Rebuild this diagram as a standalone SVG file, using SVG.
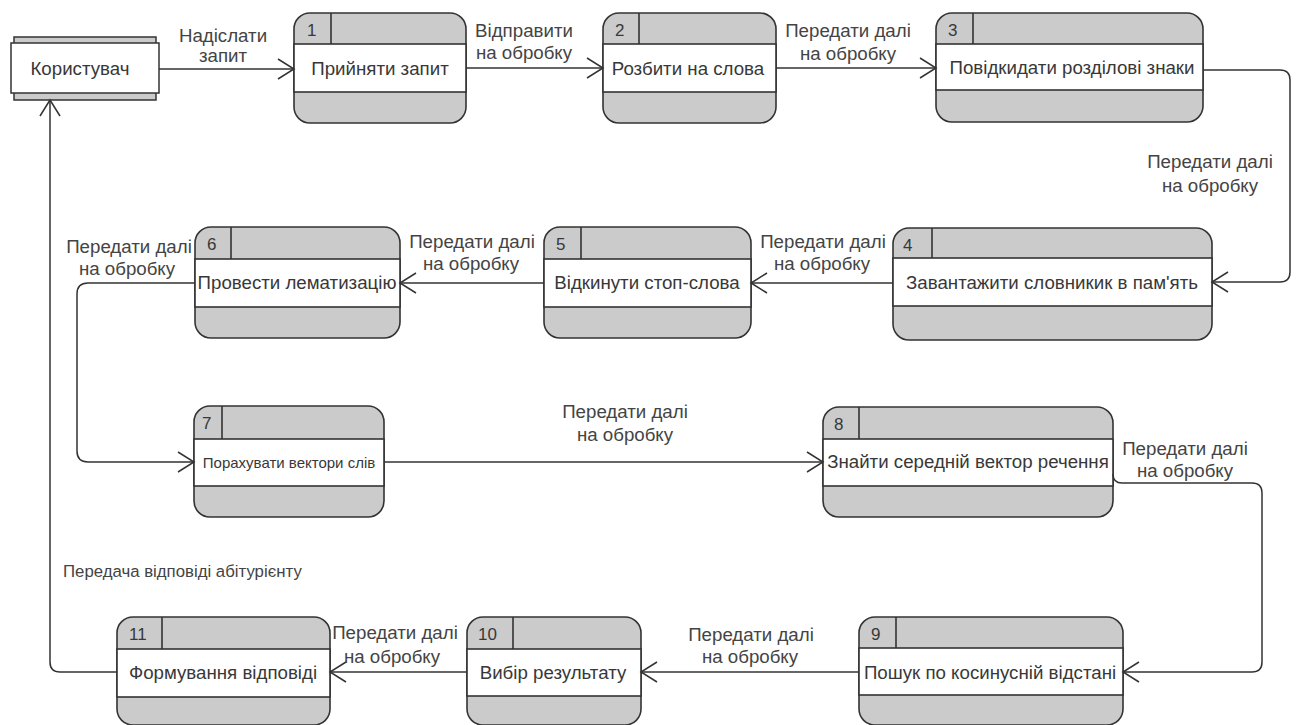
<svg xmlns="http://www.w3.org/2000/svg" width="1296" height="725" viewBox="0 0 1296 725">
<defs>
<marker id="arr" markerUnits="userSpaceOnUse" markerWidth="20" markerHeight="24" viewBox="0 0 20 24" refX="18" refY="12" orient="auto">
<path d="M2,2 L18,12 L2,22" fill="none" stroke="#333" stroke-width="1.5"/>
</marker>
</defs>
<style>
.shell{fill:#cbcbcb;stroke:#333;stroke-width:1.6}
.body{fill:#fff;stroke:#333;stroke-width:1.6}
.ln{stroke:#333;stroke-width:1.6}
.t{font-family:"Liberation Sans",Arial,sans-serif;font-size:18.7px;fill:#383838;text-anchor:middle}
.n{font-family:"Liberation Sans",Arial,sans-serif;font-size:17px;fill:#383838}
.lb{font-family:"Liberation Sans",Arial,sans-serif;font-size:18.7px;fill:#444;text-anchor:middle}
.c{fill:none;stroke:#333;stroke-width:1.5;marker-end:url(#arr)}
</style>
<rect width="1296" height="725" fill="#fff"/>

<g id="user">
<rect x="14" y="37" width="142" height="63" fill="#cbcbcb" stroke="#333" stroke-width="1.5"/>
<rect x="11" y="43" width="148" height="50" fill="#fff" stroke="#333" stroke-width="1.5"/>
<text class="t" x="80" y="75">Користувач</text>
</g>

<g id="n1">
<rect class="shell" x="294" y="13" width="172" height="110" rx="16"/>
<rect class="body" x="294" y="44" width="172" height="48"/>
<line class="ln" x1="331" y1="13" x2="331" y2="44"/>
<text class="n" x="307" y="36">1</text>
<text class="t" x="380" y="75">Прийняти запит</text>
</g>

<g id="n2">
<rect class="shell" x="603" y="13" width="173" height="110" rx="16"/>
<rect class="body" x="603" y="44" width="173" height="48"/>
<line class="ln" x1="639" y1="13" x2="639" y2="44"/>
<text class="n" x="615" y="36">2</text>
<text class="t" x="688" y="75">Розбити на слова</text>
</g>

<g id="n3">
<rect class="shell" x="936" y="13" width="267" height="109" rx="16"/>
<rect class="body" x="936" y="44" width="267" height="46"/>
<line class="ln" x1="973" y1="13" x2="973" y2="44"/>
<text class="n" x="948" y="36">3</text>
<text class="t" x="1072" y="74">Повідкидати розділові знаки</text>
</g>

<g id="n4">
<rect class="shell" x="893" y="228" width="319" height="112" rx="16"/>
<rect class="body" x="893" y="258" width="319" height="48"/>
<line class="ln" x1="932" y1="228" x2="932" y2="258"/>
<text class="n" x="903" y="251">4</text>
<text class="t" x="1052" y="289">Завантажити словникик в пам'ять</text>
</g>

<g id="n5">
<rect class="shell" x="544" y="227" width="207" height="111" rx="16"/>
<rect class="body" x="544" y="259" width="207" height="48"/>
<line class="ln" x1="581" y1="227" x2="581" y2="259"/>
<text class="n" x="556" y="250">5</text>
<text class="t" x="647" y="289">Відкинути стоп-слова</text>
</g>

<g id="n6">
<rect class="shell" x="195" y="227" width="205" height="111" rx="16"/>
<rect class="body" x="195" y="259" width="205" height="48"/>
<line class="ln" x1="231" y1="227" x2="231" y2="259"/>
<text class="n" x="207" y="250">6</text>
<text class="t" x="297" y="289">Провести лематизацію</text>
</g>

<g id="n7">
<rect class="shell" x="194" y="406" width="190" height="111" rx="16"/>
<rect class="body" x="194" y="439" width="190" height="47"/>
<line class="ln" x1="222" y1="406" x2="222" y2="439"/>
<text class="n" x="202" y="429">7</text>
<text class="t" x="289" y="468" style="font-size:15px">Порахувати вектори слів</text>
</g>

<g id="n8">
<rect class="shell" x="823" y="407" width="290" height="110" rx="16"/>
<rect class="body" x="823" y="439" width="290" height="47"/>
<line class="ln" x1="859" y1="407" x2="859" y2="439"/>
<text class="n" x="834" y="430">8</text>
<text class="t" x="968" y="468">Знайти середній вектор речення</text>
</g>

<g id="n9">
<rect class="shell" x="859" y="617" width="264" height="108" rx="16"/>
<rect class="body" x="859" y="648" width="264" height="47"/>
<line class="ln" x1="896" y1="617" x2="896" y2="648"/>
<text class="n" x="871" y="640">9</text>
<text class="t" x="990" y="679">Пошук по косинусній відстані</text>
</g>

<g id="n10">
<rect class="shell" x="467" y="617" width="174" height="108" rx="16"/>
<rect class="body" x="467" y="649" width="174" height="47"/>
<line class="ln" x1="513" y1="617" x2="513" y2="649"/>
<text class="n" x="478" y="640">10</text>
<text class="t" x="553" y="679">Вибір результату</text>
</g>

<g id="n11">
<rect class="shell" x="117" y="617" width="213" height="108" rx="16"/>
<rect class="body" x="117" y="649" width="213" height="48"/>
<line class="ln" x1="162" y1="617" x2="162" y2="649"/>
<text class="n" x="129" y="640">11</text>
<text class="t" x="223" y="679">Формування відповіді</text>
</g>

<g id="connectors">
<path class="c" d="M159,69 H294"/>
<path class="c" d="M466,68 H603"/>
<path class="c" d="M776,68 H936"/>
<path class="c" d="M1203,70 H1280 Q1290,70 1290,80 V272 Q1290,282 1280,282 H1212"/>
<path class="c" d="M893,283 H751"/>
<path class="c" d="M544,283 H400"/>
<path class="c" d="M195,283 H88 Q77,283 77,294 V451 Q77,462 88,462 H194"/>
<path class="c" d="M384,462 H823"/>
<path class="c" d="M1113,474 Q1113,483 1122,483 H1252 Q1262,483 1262,493 V662 Q1262,672 1252,672 H1123"/>
<path class="c" d="M859,672 H641"/>
<path class="c" d="M467,672 H330"/>
<path class="c" d="M117,672 H60 Q50,672 50,662 V100"/>
</g>

<g id="labels">
<text class="lb" x="223" y="42">Надіслати</text>
<text class="lb" x="223" y="62">запит</text>
<text class="lb" x="524" y="37">Відправити</text>
<text class="lb" x="524" y="59">на обробку</text>
<text class="lb" x="848" y="37">Передати далі</text>
<text class="lb" x="848" y="60">на обробку</text>
<text class="lb" x="1210" y="168">Передати далі</text>
<text class="lb" x="1210" y="192">на обробку</text>
<text class="lb" x="823" y="248">Передати далі</text>
<text class="lb" x="822" y="270">на обробку</text>
<text class="lb" x="472" y="248">Передати далі</text>
<text class="lb" x="471" y="270">на обробку</text>
<text class="lb" x="129" y="253">Передати далі</text>
<text class="lb" x="127" y="275">на обробку</text>
<text class="lb" x="625" y="418">Передати далі</text>
<text class="lb" x="625" y="441">на обробку</text>
<text class="lb" x="1185" y="455">Передати далі</text>
<text class="lb" x="1185" y="477">на обробку</text>
<text class="lb" x="751" y="641">Передати далі</text>
<text class="lb" x="750" y="663">на обробку</text>
<text class="lb" x="395" y="639">Передати далі</text>
<text class="lb" x="392" y="663">на обробку</text>
<text class="lb" x="63" y="577" style="text-anchor:start;font-size:16.8px">Передача відповіді абітурієнту</text>
</g>
</svg>
